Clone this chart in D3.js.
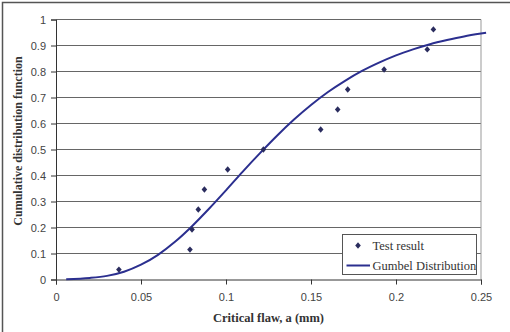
<!DOCTYPE html>
<html>
<head>
<meta charset="utf-8">
<script src="https://cdn.jsdelivr.net/npm/d3@7"></script>
<style>
  body { margin: 0; background: #fff; }
  svg { display: block; }
</style>
</head>
<body>
<div id="chart"></div>
<script>
// test results: critical flaw size (mm) and plotting position
const testFlaw = [0.037, 0.0788, 0.080, 0.0837, 0.0873, 0.101, 0.122, 0.1557, 0.1657, 0.1716, 0.193, 0.2184, 0.222];
const testProb = [0.038, 0.115, 0.192, 0.269, 0.346, 0.423, 0.5, 0.577, 0.654, 0.731, 0.808, 0.885, 0.962];

// Gumbel distribution curve
const curveFlaw = [0.006, 0.02, 0.03, 0.04, 0.05, 0.06, 0.07, 0.08, 0.09, 0.10, 0.11, 0.12, 0.13,
  0.14, 0.15, 0.16, 0.17, 0.18, 0.19, 0.20, 0.21, 0.22, 0.23, 0.24, 0.25, 0.253];
const curveProb = [0.001, 0.006, 0.014, 0.030, 0.057, 0.095, 0.145, 0.205, 0.272, 0.343, 0.416, 0.486, 0.553,
  0.615, 0.671, 0.721, 0.764, 0.802, 0.834, 0.862, 0.885, 0.905, 0.921, 0.935, 0.946, 0.949];

const xTicks = [0, 0.05, 0.1, 0.15, 0.2, 0.25];
const yTicks = [0, 0.1, 0.2, 0.3, 0.4, 0.5, 0.6, 0.7, 0.8, 0.9, 1];

const width = 510, height = 332;
const plotLeft = 56, plotRight = 481, plotTop = 19.5, plotBottom = 279.5;

const svg = d3.select('#chart').append('svg')
  .attr('width', width)
  .attr('height', height);

// outer frame (cut off on the right and bottom)
svg.append('rect')
  .attr('x', 2.5).attr('y', 2.5)
  .attr('width', width + 10).attr('height', height + 10)
  .attr('fill', 'none')
  .attr('stroke', '#555')
  .attr('stroke-width', 1.5);

const x = d3.scaleLinear().domain([0, 0.25]).range([plotLeft, plotRight]);
const y = d3.scaleLinear().domain([0, 1]).range([plotBottom, plotTop]);

// gridlines
svg.append('g')
  .selectAll('line')
  .data(yTicks.slice(1))
  .join('line')
  .attr('x1', plotLeft).attr('x2', plotRight)
  .attr('y1', d => y(d)).attr('y2', d => y(d))
  .attr('stroke', '#666')
  .attr('stroke-width', 1);

// plot area right border
svg.append('line')
  .attr('x1', plotRight).attr('x2', plotRight)
  .attr('y1', plotTop).attr('y2', plotBottom)
  .attr('stroke', '#999');

const xAxis = svg.append('g')
  .attr('transform', `translate(0,${plotBottom})`)
  .call(d3.axisBottom(x).tickValues(xTicks).tickSize(5).tickPadding(9)
    .tickFormat(d => d3.format('')(+d.toFixed(2))));

const yAxis = svg.append('g')
  .attr('transform', `translate(${plotLeft},0)`)
  .call(d3.axisLeft(y).tickValues(yTicks).tickSize(5).tickPadding(5)
    .tickFormat(d => d3.format('')(+d.toFixed(1))));

[xAxis, yAxis].forEach(g => {
  g.select('.domain').attr('stroke', '#333');
  g.selectAll('.tick line').attr('stroke', '#333');
  g.selectAll('.tick text')
    .attr('fill', '#444')
    .attr('font-family', 'Liberation Sans, Arial, sans-serif')
    .attr('font-size', 11);
});

// gumbel curve
const line = d3.line()
  .x((d, i) => x(curveFlaw[i]))
  .y((d, i) => y(curveProb[i]))
  .curve(d3.curveMonotoneX);

svg.append('path')
  .datum(curveFlaw)
  .attr('d', line)
  .attr('fill', 'none')
  .attr('stroke', '#2b2f8f')
  .attr('stroke-width', 2);

// test points
const diamond = d3.symbol().type(d3.symbolDiamond2).size(20);
svg.append('g')
  .selectAll('path')
  .data(testFlaw)
  .join('path')
  .attr('d', diamond)
  .attr('transform', (d, i) => `translate(${x(d)},${y(testProb[i])}) scale(1,1.15)`)
  .attr('fill', '#2a2c5e');

// axis titles
svg.append('text')
  .attr('x', (plotLeft + plotRight) / 2)
  .attr('y', 322)
  .attr('text-anchor', 'middle')
  .attr('font-family', 'Liberation Serif, Times New Roman, serif')
  .attr('font-weight', 'bold')
  .attr('font-size', 12.5)
  .attr('fill', '#333')
  .text('Critical flaw, a (mm)');

svg.append('text')
  .attr('transform', `translate(22,141) rotate(-90)`)
  .attr('text-anchor', 'middle')
  .attr('font-family', 'Liberation Serif, Times New Roman, serif')
  .attr('font-weight', 'bold')
  .attr('font-size', 12)
  .attr('fill', '#333')
  .text('Cumulative distribution function');

// legend
const legend = svg.append('g');
legend.append('rect')
  .attr('x', 342.5).attr('y', 234.5)
  .attr('width', 134).attr('height', 40)
  .attr('fill', '#fff')
  .attr('stroke', '#555');

legend.append('path')
  .attr('d', diamond)
  .attr('transform', 'translate(358,245.5) scale(1,1.15)')
  .attr('fill', '#2a2c5e');

legend.append('line')
  .attr('x1', 346.5).attr('x2', 370)
  .attr('y1', 265.5).attr('y2', 265.5)
  .attr('stroke', '#2b2f8f')
  .attr('stroke-width', 2);

legend.selectAll('text')
  .data(['Test result', 'Gumbel Distribution'])
  .join('text')
  .attr('x', 372.5)
  .attr('y', (d, i) => 249.5 + i * 20)
  .attr('font-family', 'Liberation Serif, Times New Roman, serif')
  .attr('font-size', 12.5)
  .attr('fill', '#333')
  .text(d => d);
</script>
</body>
</html>
